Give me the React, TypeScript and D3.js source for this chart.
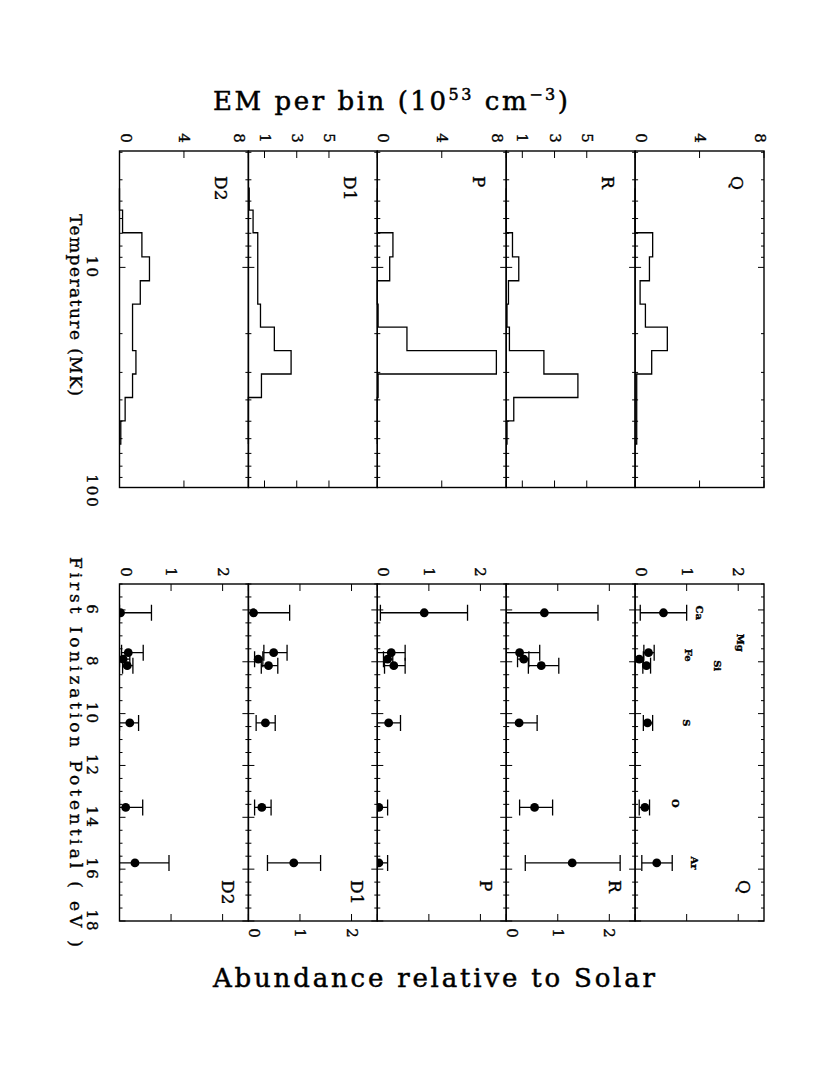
import React from 'react';
import * as d3 from 'd3';

// panels as they sit left to right in the (rotated) figure
const panelNames = ['D2', 'D1', 'P', 'R', 'Q'];

// temperature bin edges (MK), shared by all histograms
const binEdges = [4.37, 5.49, 6.96, 8.95, 11.5, 14.7, 18.7, 23.9, 30.5, 39.0, 49.8, 63.5];

// EM per bin (1e53 cm^-3)
const emD2 = [0, 0.19, 1.39, 1.86, 1.29, 0.81, 0.81, 1.02, 0.81, 0.35, 0.08];
const emD1 = [0.05, 0.29, 0.58, 0.58, 0.58, 0.75, 1.61, 2.65, 0.81, 0, 0];
const emP = [0, 0, 0.97, 0.77, 0, 0.05, 1.84, 7.39, 0.05, 0, 0];
const emR = [0, 0, 0.39, 0.78, 0.14, 0.05, 0.2, 2.34, 4.45, 0.47, 0.05];
const emQ = [0, 0, 1.09, 0.89, 0.31, 0.64, 2.0, 1.03, 0.1, 0.1, 0.1];

// elements and first ionization potentials (eV)
const elements = ['Ca', 'Mg', 'Fe', 'Si', 'S', 'O', 'Ar'];
const fip = [6.11, 7.65, 7.9, 8.15, 10.36, 13.62, 15.76];

// abundances relative to solar, with lower / upper error limits
const abD2 = [0.02, 0.17, 0.07, 0.15, 0.2, 0.12, 0.3];
const loD2 = [0, 0.04, 0, 0.06, 0, 0, 0];
const hiD2 = [0.62, 0.46, 0.2, 0.26, 0.37, 0.45, 0.96];

const abD1 = [0.1, 0.49, 0.19, 0.39, 0.33, 0.26, 0.88];
const loD1 = [0, 0.3, 0.12, 0.25, 0.15, 0.12, 0.37];
const hiD1 = [0.8, 0.75, 0.28, 0.57, 0.52, 0.44, 1.4];

const abP = [0.91, 0.27, 0.2, 0.32, 0.22, 0.03, 0.03];
const loP = [0.06, 0, 0.12, 0.14, 0, 0, 0];
const hiP = [1.75, 0.54, 0.3, 0.54, 0.45, 0.2, 0.2];

const abR = [0.74, 0.26, 0.34, 0.68, 0.25, 0.55, 1.28];
const loR = [0, 0, 0.22, 0.43, 0, 0.26, 0.37];
const hiR = [1.78, 0.65, 0.44, 1.02, 0.6, 0.9, 2.21];

const abQ = [0.55, 0.26, 0.08, 0.22, 0.24, 0.19, 0.42];
const loQ = [0.1, 0.17, 0, 0.15, 0.16, 0.08, 0.13];
const hiQ = [1.0, 0.37, 0.16, 0.3, 0.34, 0.28, 0.72];

const emTicksA = [0, 4, 8];
const emTicksB = [1, 3, 5];
const abTicks = [0, 1, 2];
const tempLabels = [10, 100];
const fipLabels = [6, 8, 10, 12, 14, 16, 18];

const emSeries = [emD2, emD1, emP, emR, emQ];
const abSeries = [
  { v: abD2, lo: loD2, hi: hiD2 },
  { v: abD1, lo: loD1, hi: hiD1 },
  { v: abP, lo: loP, hi: hiP },
  { v: abR, lo: loR, hi: hiR },
  { v: abQ, lo: loQ, hi: hiQ },
];

// where the element names go in the Q panel (abundance units / px nudge)
const elemLabelX = [1.25, 2.05, 1.03, 1.59, 0.99, 0.79, 1.15];
const elemLabelDy = [0, -10, -4, 0, 0, -4, 0];

const font = 'DejaVu Serif, serif';

function Rot({ x, y, size, anchor = 'middle', children, ...rest }: any) {
  return (
    <text
      transform={`translate(${x},${y}) rotate(90)`}
      textAnchor={anchor}
      dominantBaseline="central"
      fontSize={size}
      fontFamily={font}
      fill="#000"
      stroke="#000"
      strokeWidth={0.35}
      {...rest}
    >
      {children}
    </text>
  );
}

export default function App() {
  const left = 119.5;
  const pw = 128.9;
  const emTop = 151;
  const emBottom = 487.5;
  const abTop = 584;
  const abBottom = 921;

  const tScale = d3.scaleLog().domain([2.96, 100]).range([emTop, emBottom]);
  const fipScale = d3.scaleLinear().domain([5, 18]).range([abTop, abBottom]);

  const tTicks = tScale.ticks();
  const fipTicks = d3.range(5, 18.001, 0.5);

  return (
    <svg
      width={830}
      height={1074}
      style={{ position: 'absolute', left: 0, top: 0, background: '#fff' }}
    >
      <defs>
        {panelNames.map((n, i) => (
          <clipPath id={`clip-ab-${i}`} key={n}>
            <rect x={left + i * pw} y={abTop} width={pw} height={abBottom - abTop} />
          </clipPath>
        ))}
      </defs>

      {panelNames.map((name, i) => {
        const x0 = left + i * pw;
        const x1 = x0 + pw;
        const emX = d3.scaleLinear().domain([0, 8]).range([x0, x1]);
        const abX = d3.scaleLinear().domain([0, 2.5]).range([x0, x1]);
        const emTicks = i % 2 === 0 ? emTicksA : emTicksB;

        const pts: { em: number; t: number }[] = [{ em: 0, t: binEdges[0] }];
        emSeries[i].forEach((v, k) => {
          pts.push({ em: v, t: binEdges[k] });
          pts.push({ em: v, t: binEdges[k + 1] });
        });
        pts.push({ em: 0, t: binEdges[binEdges.length - 1] });
        const line = d3
          .line<{ em: number; t: number }>()
          .x((d) => emX(d.em))
          .y((d) => tScale(d.t));

        const shift = (v: number, sc: any) => {
          const p = sc(v);
          if (Math.abs(p - x0) < 1) return p + 6;
          if (Math.abs(p - x1) < 1) return p - (i === 4 ? 4 : 9);
          return p;
        };

        const ab = abSeries[i];

        return (
          <g key={name} stroke="#000" fill="none">
            {/* ---- EM histogram panel ---- */}
            <rect x={x0} y={emTop} width={pw} height={emBottom - emTop} strokeWidth={1.4} />
            {tTicks.map((t) => {
              const y = tScale(t);
              const len = t === 10 || t === 100 ? 6 : 3;
              return (
                <g key={t} strokeWidth={1}>
                  <line x1={x0} x2={x0 + len} y1={y} y2={y} />
                  <line x1={x1} x2={x1 - len} y1={y} y2={y} />
                </g>
              );
            })}
            {emTicks.map((v) => (
              <g key={v} strokeWidth={1}>
                <line x1={emX(v)} x2={emX(v)} y1={emTop} y2={emTop + 7} />
                <line x1={emX(v)} x2={emX(v)} y1={emBottom} y2={emBottom - 7} />
              </g>
            ))}
            <path d={line(pts) || ''} strokeWidth={1.3} />
            {emTicks.map((v) => (
              <Rot key={v} x={shift(v, emX)} y={138} size={15}>
                {v}
              </Rot>
            ))}
            <Rot x={x1 - 27} y={176} size={17} anchor="start">
              {name}
            </Rot>

            {/* ---- abundance panel ---- */}
            <rect x={x0} y={abTop} width={pw} height={abBottom - abTop} strokeWidth={1.4} />
            {fipTicks.map((f) => {
              const y = fipScale(f);
              const len = f % 2 === 0 ? 6 : 3;
              return (
                <g key={f} strokeWidth={1}>
                  <line x1={x0} x2={x0 + len} y1={y} y2={y} />
                  <line x1={x1} x2={x1 - len} y1={y} y2={y} />
                </g>
              );
            })}
            {abTicks.map((v) => (
              <g key={v} strokeWidth={1}>
                <line x1={abX(v)} x2={abX(v)} y1={abTop} y2={abTop + 7} />
                <line x1={abX(v)} x2={abX(v)} y1={abBottom} y2={abBottom - 7} />
              </g>
            ))}
            <g clipPath={`url(#clip-ab-${i})`}>
              {fip.map((f, k) => {
                const y = fipScale(f);
                return (
                  <g key={k} strokeWidth={1.3}>
                    <line x1={abX(ab.lo[k])} x2={abX(ab.hi[k])} y1={y} y2={y} />
                    <line x1={abX(ab.lo[k])} x2={abX(ab.lo[k])} y1={y - 8} y2={y + 8} />
                    <line x1={abX(ab.hi[k])} x2={abX(ab.hi[k])} y1={y - 8} y2={y + 8} />
                    <circle cx={abX(ab.v[k])} cy={y} r={4.4} fill="#000" stroke="none" />
                  </g>
                );
              })}
            </g>
            {abTicks.map((v) => (
              <Rot key={v} x={shift(v, abX)} y={i === 1 || i === 3 ? 933 : 572} size={15}>
                {v}
              </Rot>
            ))}
            <Rot x={x1 - 20} y={880} size={17} anchor="start">
              {name}
            </Rot>
            {i === 4 &&
              elements.map((el, k) => (
                <Rot
                  key={el}
                  x={abX(elemLabelX[k])}
                  y={fipScale(fip[k]) + elemLabelDy[k]}
                  size={10}
                  fontWeight="bold"
                >
                  {el}
                </Rot>
              ))}
          </g>
        );
      })}

      {/* left axis labels */}
      {tempLabels.map((t) => (
        <Rot key={t} x={92} y={tScale(t) + (t === 100 ? 4 : 0)} size={15} letterSpacing={2}>
          {t}
        </Rot>
      ))}
      {fipLabels.map((f) => (
        <Rot key={f} x={92} y={fipScale(f)} size={15} letterSpacing={2}>
          {f}
        </Rot>
      ))}
      <Rot x={76} y={305} size={17} textLength={182} lengthAdjust="spacing">
        Temperature (MK)
      </Rot>
      <Rot x={76} y={752} size={17} textLength={390} lengthAdjust="spacing">
        First Ionization Potential ( eV )
      </Rot>

      {/* titles */}
      <text
        x={213}
        y={110}
        fontSize={26}
        fontFamily={font}
        fill="#000"
        stroke="#000"
        strokeWidth={0.5}
        textLength={355}
        lengthAdjust="spacing"
      >
        EM per bin (10
        <tspan dy={-10} fontSize={16}>
          53
        </tspan>
        <tspan dy={10}> cm</tspan>
        <tspan dy={-10} fontSize={16}>
          −3
        </tspan>
        <tspan dy={10}>)</tspan>
      </text>
      <text
        x={213}
        y={987}
        fontSize={26}
        fontFamily={font}
        fill="#000"
        stroke="#000"
        strokeWidth={0.5}
        textLength={442}
        lengthAdjust="spacing"
      >
        Abundance relative to Solar
      </text>
    </svg>
  );
}
